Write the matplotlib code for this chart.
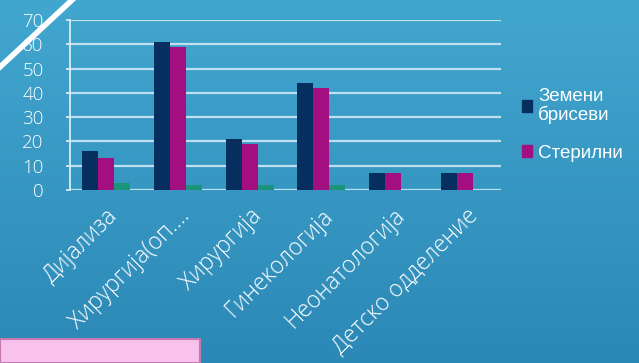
import numpy as np
import matplotlib
matplotlib.use("Agg")
import matplotlib.pyplot as plt
from matplotlib.patches import Rectangle
from matplotlib.lines import Line2D

categories = ["Дијализа", "Хирургија(оп….", "Хирургија", "Гинекологија",
              "Неонатологија", "Детско одделение"]
zemeni = [16, 61, 21, 44, 7, 7]
sterilni = [13, 59, 19, 42, 7, 7]
drugi = [3, 2, 2, 2, 0, 0]
y_ticks = [0, 10, 20, 30, 40, 50, 60, 70]

c_navy = '#062e5f'
c_mag = '#a30f80'
c_green = '#1b9479'
light_font = ['Open Sans', 'DejaVu Sans']

fig = plt.figure(figsize=(6.39, 3.63), dpi=100)

# background gradient
bg = fig.add_axes([0, 0, 1, 1], zorder=-10)
top = np.array([0x42, 0xa7, 0xcf]) / 255
bot = np.array([0x2c, 0x88, 0xb6]) / 255
t = np.linspace(0, 1, 200)[:, None, None]
grad = top * (1 - t) + bot * t
grad = np.repeat(grad, 2, axis=1)
bg.imshow(grad, aspect='auto', extent=[0, 1, 0, 1])
bg.set_xlim(0, 1)
bg.set_ylim(0, 1)
bg.axis('off')

ax = fig.add_axes([70 / 639, 1 - 190 / 363, 431 / 639, 170 / 363])
ax.set_facecolor('none')

x = np.arange(len(categories))
w = 0.222
ax.bar(x - w, zemeni, w, color=c_navy, zorder=3)
ax.bar(x, sterilni, w, color=c_mag, zorder=3)
ax.bar(x + w, drugi, w, color=c_green, zorder=3)

ax.set_xlim(-0.5, len(categories) - 0.5)
ax.set_ylim(0, 70)
ax.set_yticks(y_ticks)
ax.yaxis.grid(True, color='#d6ecf5', linewidth=1.6, alpha=0.85, zorder=1)
ax.set_axisbelow(True)
for s in ['top', 'right', 'bottom']:
    ax.spines[s].set_visible(False)
ax.spines['left'].set_color('#d6ecf5')
ax.spines['left'].set_linewidth(1.3)
ax.tick_params(axis='y', colors='#d6ecf5', length=3, width=1.3, pad=16,
               labelcolor='white', labelsize=13.5)
for lab in ax.get_yticklabels():
    lab.set_fontfamily(light_font)
    lab.set_fontweight('light')

ax.set_xticks(x)
ax.set_xticklabels(categories, rotation=45, ha='right', va='top',
                   rotation_mode='anchor', color='white', fontsize=16.5)
ax.tick_params(axis='x', length=0, pad=10)
for lab in ax.get_xticklabels():
    lab.set_fontfamily(light_font)
    lab.set_fontweight('light')

leg = fig.legend(handles=[
    Rectangle((0, 0), 1, 1, color=c_navy),
    Rectangle((0, 0), 1, 1, color=c_mag)],
    labels=['Земени\nбрисеви', 'Стерилни'],
    loc='upper left', bbox_to_anchor=(522 / 639, 1 - 88 / 363),
    frameon=False, borderpad=0, borderaxespad=0,
    handlelength=0.55, handleheight=0.55,
    handletextpad=0.3, labelspacing=1.1,
    prop={'family': 'Liberation Sans', 'size': 13.5})
for txt in leg.get_texts():
    txt.set_color('white')
    txt.set_linespacing(1.05)

# decorative elements
fig.add_artist(Line2D([0, 72 / 639], [1 - 67 / 363, 1], color='white',
                      linewidth=4, transform=fig.transFigure))
fig.add_artist(Rectangle((0, 0), 200 / 639, 24 / 363, facecolor='#f9c2ec',
                         edgecolor='#c27aae', linewidth=1.5,
                         transform=fig.transFigure))

fig.savefig('out.png', dpi=100)
